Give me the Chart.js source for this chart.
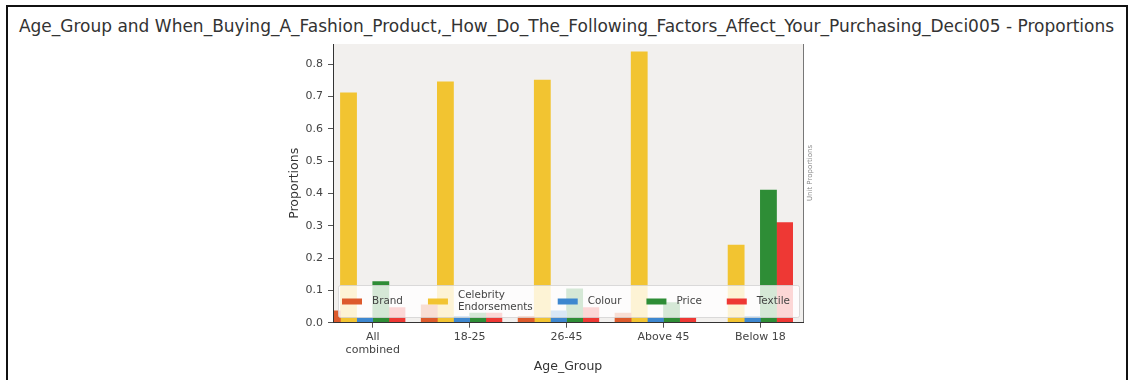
<!DOCTYPE html>
<html>
<head>
<meta charset="utf-8">
<script src="https://cdn.jsdelivr.net/npm/chart.js@4/dist/chart.umd.min.js"></script>
<style>
  body { margin: 0; background: #fff; overflow: hidden; }
  #frame { position: absolute; left: 6px; top: 5px; width: 1118px; height: 420px; border: 2px solid #111; }
  #title { position: absolute; left: 0; width: 1133px; top: 16px; line-height: 20px; text-align: center;
           font-family: 'DejaVu Sans', sans-serif; font-size: 17px; color: #333; white-space: nowrap; }
  #wrap { position: absolute; left: 0; top: 0; width: 1129px; height: 380px; }
</style>
</head>
<body>
<div id="frame"></div>
<div id="title">Age_Group and When_Buying_A_Fashion_Product,_How_Do_The_Following_Factors_Affect_Your_Purchasing_Deci005 - Proportions</div>
<div id="wrap"><canvas id="myChart" width="1129" height="380"></canvas></div>
<script>
// age groups on the x axis
var ageGroups = [['All', 'combined'], '18-25', '26-45', 'Above 45', 'Below 18'];

// proportions per factor
var brand      = [0.037, 0.055, 0.02, 0.03, 0];
var celebrity  = [0.712, 0.746, 0.751, 0.839, 0.24];
var colour     = [0.015, 0.02, 0.037, 0.015, 0.02];
var price      = [0.127, 0.03, 0.105, 0.062, 0.411];
var textile    = [0.047, 0.03, 0.047, 0.015, 0.31];

var yTicks = [0, 0.1, 0.2, 0.3, 0.4, 0.5, 0.6, 0.7, 0.8];

var font = "'DejaVu Sans', sans-serif";

// plot background
var plotBackground = {
  id: 'plotBackground',
  beforeDraw: function (chart) {
    var ctx = chart.ctx, a = chart.chartArea;
    ctx.save();
    ctx.fillStyle = '#f2f0ee';
    ctx.fillRect(a.left, a.top, a.right - a.left, a.bottom - a.top);
    ctx.restore();
  }
};

// legend box inside the plot, right spine and the small side label
var insideLegend = {
  id: 'insideLegend',
  afterDatasetsDraw: function (chart) {
    var ctx = chart.ctx, a = chart.chartArea;
    var top = a.bottom - 37.7, bottom = a.bottom - 5.7;
    var left = a.left + 5, right = a.right - 4;
    ctx.save();
    ctx.fillStyle = 'rgba(255,255,255,0.8)';
    ctx.strokeStyle = 'rgba(210,210,210,0.8)';
    ctx.lineWidth = 1;
    ctx.beginPath();
    ctx.roundRect(left + 0.5, top + 0.5, right - left, bottom - top, 2);
    ctx.fill();
    ctx.stroke();

    var mid = (top + bottom) / 2;
    ctx.font = '10.4px ' + font;
    ctx.textBaseline = 'middle';
    ctx.textAlign = 'left';
    var x = left + 4;
    chart.data.datasets.forEach(function (ds) {
      if (!ds.label) return;
      ctx.fillStyle = ds.backgroundColor;
      ctx.fillRect(x, mid - 2.5, 20, 6);
      ctx.fillStyle = '#444';
      var lines = ds.label.split('\n');
      var w = 0;
      lines.forEach(function (line, i) {
        var y = mid + 0.5 + (i - (lines.length - 1) / 2) * 12;
        ctx.fillText(line, x + 30, y);
        w = Math.max(w, ctx.measureText(line).width);
      });
      x += 30 + w + 25;
    });

    // right spine
    ctx.strokeStyle = '#777';
    ctx.beginPath();
    ctx.moveTo(a.right + 0.5, a.top);
    ctx.lineTo(a.right + 0.5, a.bottom);
    ctx.stroke();

    // side label
    ctx.translate(a.right + 7, 173);
    ctx.rotate(-Math.PI / 2);
    ctx.textAlign = 'center';
    ctx.fillStyle = '#888';
    ctx.font = '7px ' + font;
    ctx.fillText('Unit Proportions', 0, 0);
    ctx.restore();
  }
};

var ctx = document.getElementById('myChart');

var myChart = new Chart(ctx, {
  type: 'bar',
  data: {
    labels: ageGroups,
    datasets: [
      { label: 'Brand', data: brand, backgroundColor: '#dd5a2c' },
      { label: 'Celebrity\nEndorsements', data: celebrity, backgroundColor: '#f2c431' },
      { label: 'Colour', data: colour, backgroundColor: '#3d87cf' },
      { label: 'Price', data: price, backgroundColor: '#2e8d36' },
      { label: 'Textile', data: textile, backgroundColor: '#ee3834' },
      // empty sixth slot, the groups in the source are dodged this way
      { label: '', data: [null, null, null, null, null], backgroundColor: 'transparent' }
    ]
  },
  options: {
    responsive: false,
    animation: false,
    layout: { padding: { left: 268, right: 326, top: 44, bottom: 0 } },
    datasets: {
      bar: { categoryPercentage: 1, barPercentage: 1, borderWidth: 0 }
    },
    plugins: {
      legend: { display: false },
      tooltip: { enabled: false },
      title: { display: false }
    },
    scales: {
      x: {
        afterFit: function (scale) { scale.height = 57.3; },
        afterBuildTicks: function (scale) {
          // x limits like the source: a bit cut on the left
          scale._startValue = -0.41;
          scale._valueRange = 4.85;
        },
        grid: { offset: false, drawOnChartArea: false, drawTicks: true, tickLength: 5, color: '#555' },
        border: { display: true, color: '#333', width: 1, z: 1 },
        ticks: {
          color: '#444',
          padding: 3,
          maxRotation: 0,
          font: { family: font, size: 11, lineHeight: 1.2 }
        },
        title: {
          display: true,
          text: 'Age_Group',
          color: '#333',
          font: { family: font, size: 12.5, lineHeight: 1.2 },
          padding: { top: 0, bottom: 6 }
        }
      },
      y: {
        min: 0,
        max: 0.863,
        afterFit: function (scale) { scale.width = 65; },
        afterBuildTicks: function (scale) {
          scale.ticks = yTicks.map(function (v) { return { value: v }; });
        },
        grid: { drawOnChartArea: false, drawTicks: true, tickLength: 5, color: '#555' },
        border: { display: true, color: '#333', width: 1, z: 1 },
        ticks: {
          color: '#444',
          padding: 5,
          font: { family: font, size: 11 },
          callback: function (v) { return v.toFixed(1); }
        },
        title: {
          display: true,
          text: 'Proportions',
          color: '#333',
          font: { family: font, size: 12.5, lineHeight: 1.2 },
          padding: { top: 19, bottom: 0 }
        }
      }
    }
  },
  plugins: [plotBackground, insideLegend]
});
</script>
</body>
</html>
